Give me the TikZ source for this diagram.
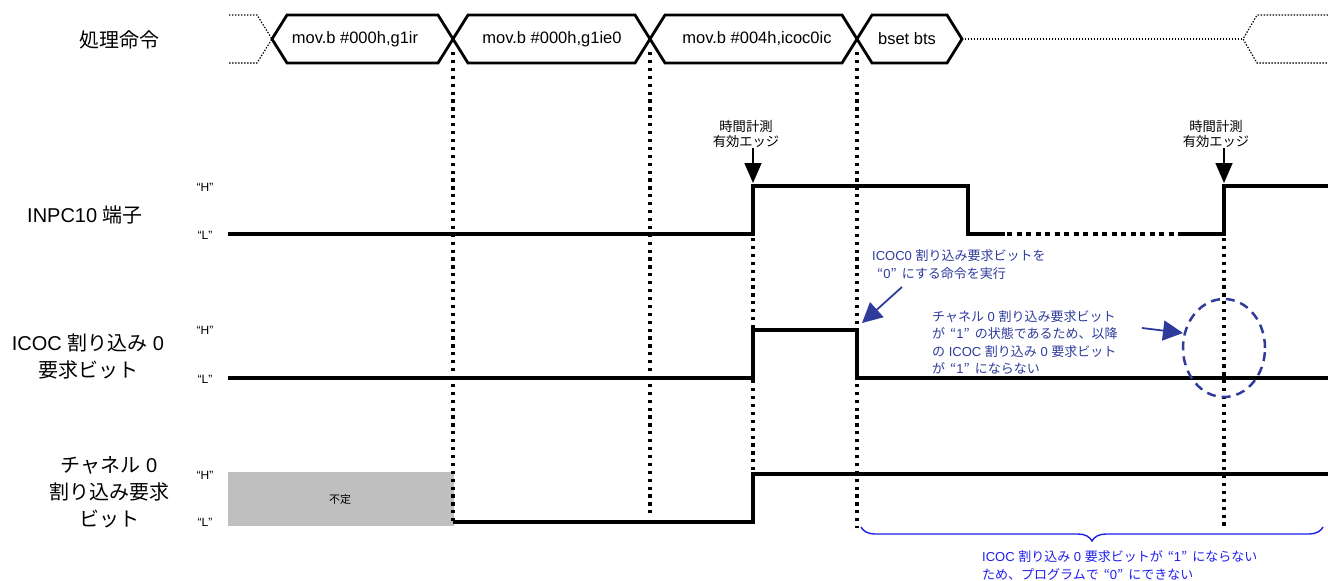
\documentclass[tikz,border=0pt]{standalone}
\usepackage{fontspec}
\setmainfont{Liberation Sans}
\newfontfamily\jafont{Noto Sans CJK JP}
\newcommand{\jtxt}[1]{{\jafont #1}}
\newcommand{\qt}[1]{\kern5pt{\jafont “}#1{\jafont ”}\kern5pt}
\usetikzlibrary{arrows.meta,decorations.pathreplacing,positioning}
\definecolor{notecol}{HTML}{2E3B9B}
\definecolor{bracecol}{HTML}{1E1EEB}

\begin{document}
\begin{tikzpicture}[x=1pt,y=-1pt]
        % Style Definitions
        \tikzstyle{bus} = [draw=black, line width=2.8pt, line join=miter]
        \tikzstyle{busdots} = [draw=black, line width=1.2pt, dash pattern=on 1.4pt off 1.6pt]
        \tikzstyle{wave} = [draw=black, line width=4.5pt, line join=miter]
        \tikzstyle{wavedots} = [draw=black, line width=4.5pt, dash pattern=on 5pt off 4.5pt]
        \tikzstyle{guide} = [draw=black, line width=3.2pt, dash pattern=on 3.2pt off 4.7pt]
        \tikzstyle{instr} = [font=\fontsize{16.5}{20}\selectfont, inner sep=0pt]
        \tikzstyle{signame} = [font=\fontsize{20}{27}\selectfont, align=center, inner sep=0pt]
        \tikzstyle{level} = [font=\fontsize{12}{14}\selectfont, inner sep=0pt]
        \tikzstyle{edgelbl} = [font=\fontsize{13.3}{14.5}\selectfont\jafont, align=center, inner sep=0pt]
        \tikzstyle{note} = [font=\fontsize{13}{17.5}\selectfont, text=notecol, align=left, inner sep=0pt, anchor=west]
        \tikzstyle{edgearrow} = [draw=black, line width=1.6pt, -{Triangle[length=20pt,width=17pt]}]
        \tikzstyle{notearrow} = [draw=notecol, line width=1.8pt, -{Triangle[length=20pt,width=20pt]}]

        \useasboundingbox (0,0) rectangle (1328,581);

        % Instruction bus
        \draw[busdots] (229,15) -- (257,15) -- (272,39) -- (257,63) -- (229,63);
        \draw[bus] (272,39) -- (287,15) -- (438,15) -- (453,39) -- (438,63) -- (287,63) -- cycle;
        \draw[bus] (453,39) -- (468,15) -- (635,15) -- (650,39) -- (635,63) -- (468,63) -- cycle;
        \draw[bus] (650,39) -- (665,15) -- (842,15) -- (857,39) -- (842,63) -- (665,63) -- cycle;
        \draw[bus] (857,39) -- (872,15) -- (947,15) -- (962,39) -- (947,63) -- (872,63) -- cycle;
        \draw[busdots] (962,39) -- (1243,39);
        \draw[busdots] (1328,15) -- (1257,15) -- (1243,39) -- (1257,63) -- (1328,63);

        % Nodes
        \node (cmd) [signame] at (119,40) {\jtxt{処理命令}};
        \node (inpc) [signame] at (85,215) {INPC10 \jtxt{端子}};
        \node (icoc) [signame] at (88,356) {ICOC \jtxt{割り込み} 0\\\jtxt{要求ビット}};
        \node (chan) [signame] at (109,492) {\jtxt{チャネル} 0\\\jtxt{割り込み要求}\\\jtxt{ビット}};

        \node (ins1) [instr] at (355,39) {mov.b \#000h,g1ir};
        \node (ins2) [instr] at (552,39) {mov.b \#000h,g1ie0};
        \node (ins3) [instr] at (757,39) {mov.b \#004h,icoc0ic};
        \node (ins4) [instr] at (907,39) {bset bts};

        \node (inpcH) [level] at (205,187) {“H”};
        \node (inpcL) [level] at (205,235) {“L”};
        \node (icocH) [level] at (205,330) {“H”};
        \node (icocL) [level] at (205,379) {“L”};
        \node (chanH) [level] at (205,475) {“H”};
        \node (chanL) [level] at (205,522) {“L”};

        % Waveforms
        \fill[gray!50] (228,472) rectangle (454,526);
        \node (undef) [level, font=\fontsize{11}{13}\selectfont] at (340,499) {\jtxt{不定}};

        \draw[guide] (453,52) -- (453,521);
        \draw[guide] (650,52) -- (650,517);
        \draw[guide] (753,238) -- (753,470);
        \draw[guide] (857,52) -- (857,528);
        \draw[guide] (1224,238) -- (1224,528);

        \draw[wave] (228,234) -- (753,234) -- (753,186) -- (968,186) -- (968,234) -- (1005,234);
        \draw[wavedots] (1007,234) -- (1176,234);
        \draw[wave] (1178,234) -- (1224,234) -- (1224,186) -- (1328,186);
        \draw[wave] (228,378) -- (753,378) -- (753,330) -- (857,330) -- (857,378) -- (1328,378);
        \draw[wave] (453,522) -- (753,522) -- (753,474) -- (1328,474);

        % Edge labels
        \node (edge1) [edgelbl] at (746,134) {時間計測\\有効エッジ};
        \node (edge2) [edgelbl] at (1216,134) {時間計測\\有効エッジ};
        \coordinate (rise1) at (753,183);
        \coordinate (rise2) at (1224,183);

        % Notes
        \node (note1) [note] at (872,264.5) {ICOC0 \jtxt{割り込み要求ビットを}\\\qt{0}\jtxt{にする命令を実行}};
        \node (note2) [note] at (932,342.5) {\jtxt{チャネル} 0 \jtxt{割り込み要求ビット}\\\jtxt{が}\qt{1}\jtxt{の状態であるため、以降}\\\jtxt{の} ICOC \jtxt{割り込み} 0 \jtxt{要求ビット}\\\jtxt{が}\qt{1}\jtxt{にならない}};
        \node (note3) [note, text=bracecol] at (982,565.5) {ICOC \jtxt{割り込み} 0 \jtxt{要求ビットが}\qt{1}\jtxt{にならない}\\\jtxt{ため、プログラムで}\qt{0}\jtxt{にできない}};
        \coordinate (n1tail) at (902,287);
        \coordinate (n1tip) at (862,323);
        \coordinate (n2tail) at (1142,328);
        \coordinate (n2tip) at (1183,333);
        \coordinate (brL) at (861,527);
        \coordinate (brR) at (1323,527);

        % Arrows
        \draw[edgearrow] (edge1.south -| rise1) -- (rise1);
        \draw[edgearrow] (edge2.south -| rise2) -- (rise2);
        \draw[notearrow] (n1tail) -- (n1tip);
        \draw[notearrow] (n2tail) -- (n2tip);
        \draw[notecol, line width=2.5pt, dash pattern=on 9pt off 6pt] (1224,348) ellipse [x radius=41pt, y radius=49pt];
        \draw[bracecol, line width=1.4pt, decorate, decoration={brace, amplitude=14pt, mirror}] (brL) -- (brR);

    \end{tikzpicture}
\end{document}
